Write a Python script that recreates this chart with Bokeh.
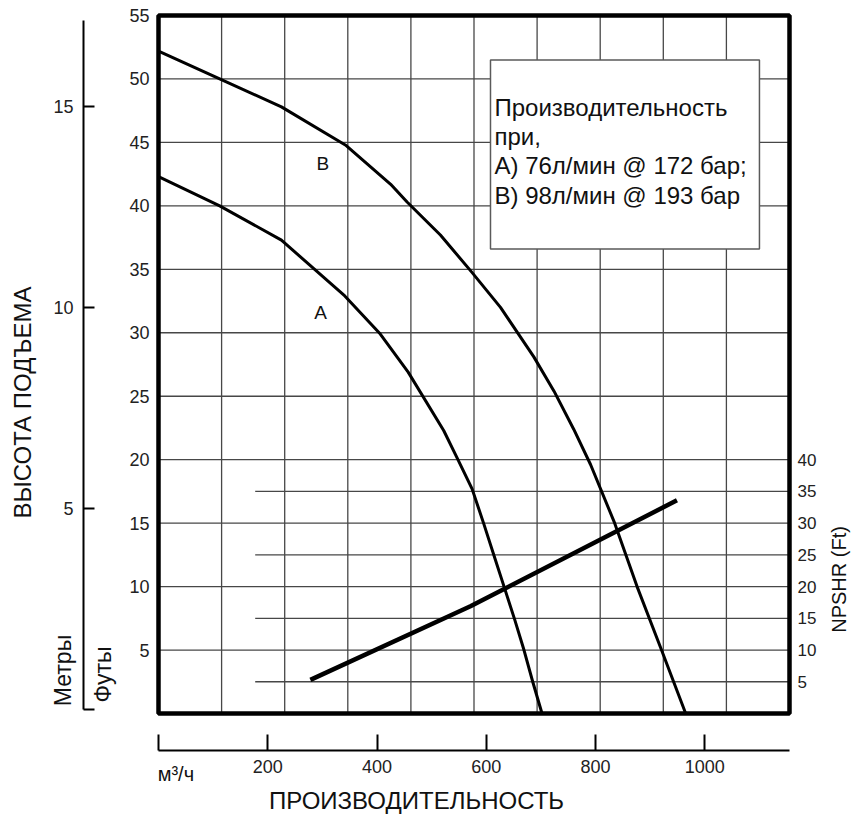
import math
from bokeh.plotting import figure
from bokeh.models import Range1d, LinearAxis, FixedTicker, BoxAnnotation, Label
from bokeh.embed import file_html
from bokeh.resources import INLINE

# ---- data ----
# flow in m3/h, head in feet
flow_a = [0, 112, 225, 341, 406, 457, 522, 547, 574, 595, 616, 634, 652, 669, 685, 702]
head_a = [42.3, 40.0, 37.3, 32.9, 29.9, 26.9, 22.3, 20.1, 17.7, 15.0, 12.2, 9.8, 7.4, 5.0, 2.5, 0.0]
flow_b = [0, 112, 225, 342, 425, 455, 516, 573, 626, 687, 724, 760, 791, 835, 876, 919, 965]
head_b = [52.2, 50.0, 47.8, 44.8, 41.7, 40.3, 37.7, 34.8, 32.0, 28.1, 25.4, 22.4, 19.6, 15.0, 10.0, 5.2, 0.0]
flow_npshr = [278, 571, 949]
npshr_ft = [5.3, 16.9, 33.6]

feet_ticks = [5, 10, 15, 20, 25, 30, 35, 40, 45, 50, 55]
meter_ticks = [0, 5, 10, 15]
npshr_ticks = [5, 10, 15, 20, 25, 30, 35, 40]
flow_ticks = [0, 200, 400, 600, 800, 1000]
grid_flow = [115.5, 231, 346.5, 462, 577.5, 693, 808.5, 924, 1039.5]
grid_feet = [5, 10, 15, 20, 25, 30, 35, 40, 45, 50]
npshr_minor = [5, 15, 25, 35]
box_lines = ["Производительность", "при,", "A) 76л/мин @ 172 бар;", "B) 98л/мин @ 193 бар"]

FONT = "Liberation Sans"
GRID = "#474747"

# ---- layout (pixels) ----
W, H = 852, 815
FL, FR, FT, FB = 158, 789, 15, 713      # chart box in canvas pixels
QMAX, HMAX = 1155, 55
sx = (FR - FL) / QMAX                    # px per m3/h
sy = (FB - FT) / HMAX                    # px per ft
M0, SM = 709, 40.2                       # meters axis: px of 0 m, px per m

p = figure(width=W, height=H,
           x_range=Range1d(-FL / sx, (W - FL) / sx),
           y_range=Range1d(-(H - FB) / sy, FB / sy),
           x_axis_location=None, y_axis_location=None, toolbar_location=None,
           output_backend="svg", min_border=0)
p.outline_line_color = None
p.xgrid.visible = False
p.ygrid.visible = False
p.extra_y_ranges = {"m": Range1d(-(H - M0) / SM, M0 / SM),
                    "npshr": Range1d(-2 * (H - FB) / sy, 2 * FB / sy)}

# grid
n = len(grid_flow)
p.segment(x0=grid_flow, y0=[0] * n, x1=grid_flow, y1=[HMAX] * n, line_color=GRID, line_width=1.3)
n = len(grid_feet)
p.segment(x0=[0] * n, y0=grid_feet, x1=[QMAX] * n, y1=grid_feet, line_color=GRID, line_width=1.3)
n = len(npshr_minor)
p.segment(x0=[177] * n, y0=npshr_minor, x1=[QMAX] * n, y1=npshr_minor,
          y_range_name="npshr", line_color=GRID, line_width=1.3)

def style(ax, size="18px"):
    ax.major_label_text_font = FONT
    ax.major_label_text_font_size = size
    ax.major_label_text_color = "#222222"
    ax.minor_tick_line_color = None

# feet axis
fa = LinearAxis(fixed_location=0, ticker=FixedTicker(ticks=feet_ticks), axis_line_color=None,
                major_tick_in=0, major_tick_out=0, major_tick_line_color=None,
                major_label_standoff=9)
style(fa)
p.add_layout(fa, "left")

# meters axis
ma = LinearAxis(y_range_name="m", fixed_location=(83 - FL) / sx, bounds=(0, 17.14),
                ticker=FixedTicker(ticks=meter_ticks), major_label_overrides={0: ""},
                major_tick_in=11, major_tick_out=0, major_tick_line_width=2,
                axis_line_width=2, major_label_standoff=10)
style(ma)
p.add_layout(ma, "left")

# NPSHR axis
na = LinearAxis(y_range_name="npshr", fixed_location=QMAX, ticker=FixedTicker(ticks=npshr_ticks),
                axis_line_color=None, major_tick_in=0, major_tick_out=0,
                major_tick_line_color=None, major_label_standoff=8)
style(na, "17px")
p.add_layout(na, "right")

# flow axis
qa = LinearAxis(fixed_location=(FB - 750) / sy, bounds=(0, QMAX), ticker=FixedTicker(ticks=flow_ticks),
                major_label_overrides={0: ""}, major_tick_in=16, major_tick_out=0,
                major_tick_line_width=2, axis_line_width=2, major_label_standoff=9)
style(qa)
p.add_layout(qa, "below")

# curves
p.line(flow_a, head_a, line_color="black", line_width=3, line_join="round")
p.line(flow_b, head_b, line_color="black", line_width=3, line_join="round")
p.line(flow_npshr, npshr_ft, y_range_name="npshr", line_color="black", line_width=4.5, line_join="round")

# info box
p.add_layout(BoxAnnotation(left=607.7, right=1100, bottom=36.6, top=51.5,
                           fill_color="white", fill_alpha=1, line_color="#5a5a5a",
                           line_alpha=1, line_width=1.5))
for i, t in enumerate(box_lines):
    p.add_layout(Label(x=615, y=47.75 - i * 2.3, text=t, text_font=FONT, text_font_size="24px",
                       text_baseline="middle", text_align="left", text_color="#111111"))

# chart border
p.add_layout(BoxAnnotation(left=0, right=QMAX, bottom=0, top=HMAX, fill_alpha=0,
                           line_color="black", line_alpha=1, line_width=4.5))

def lab(x, y, t, size, angle=0.0, align="center"):
    p.add_layout(Label(x=x, y=y, text=t, text_font=FONT, text_font_size=size, angle=angle,
                       text_align=align, text_baseline="middle", text_color="#111111"))

lab(301, 43.3, "B", "19px")
lab(296.5, 31.6, "A", "19px")
lab(-248.9, 24.5, "ВЫСОТА ПОДЪЕМА", "24px", math.pi / 2)
lab(-174.8, 3.39, "Метры", "23px", math.pi / 2)
lab(-101.6, 3.07, "Футы", "23px", math.pi / 2)
lab(1245.6, 10.56, "NPSHR (Ft)", "20px", math.pi / 2)
lab(-1.5, -4.73, "м³/ч", "20px", 0.0, "left")
lab(472.3, -6.85, "ПРОИЗВОДИТЕЛЬНОСТЬ", "24px")

open("out.html", "w").write(file_html(p, INLINE))
